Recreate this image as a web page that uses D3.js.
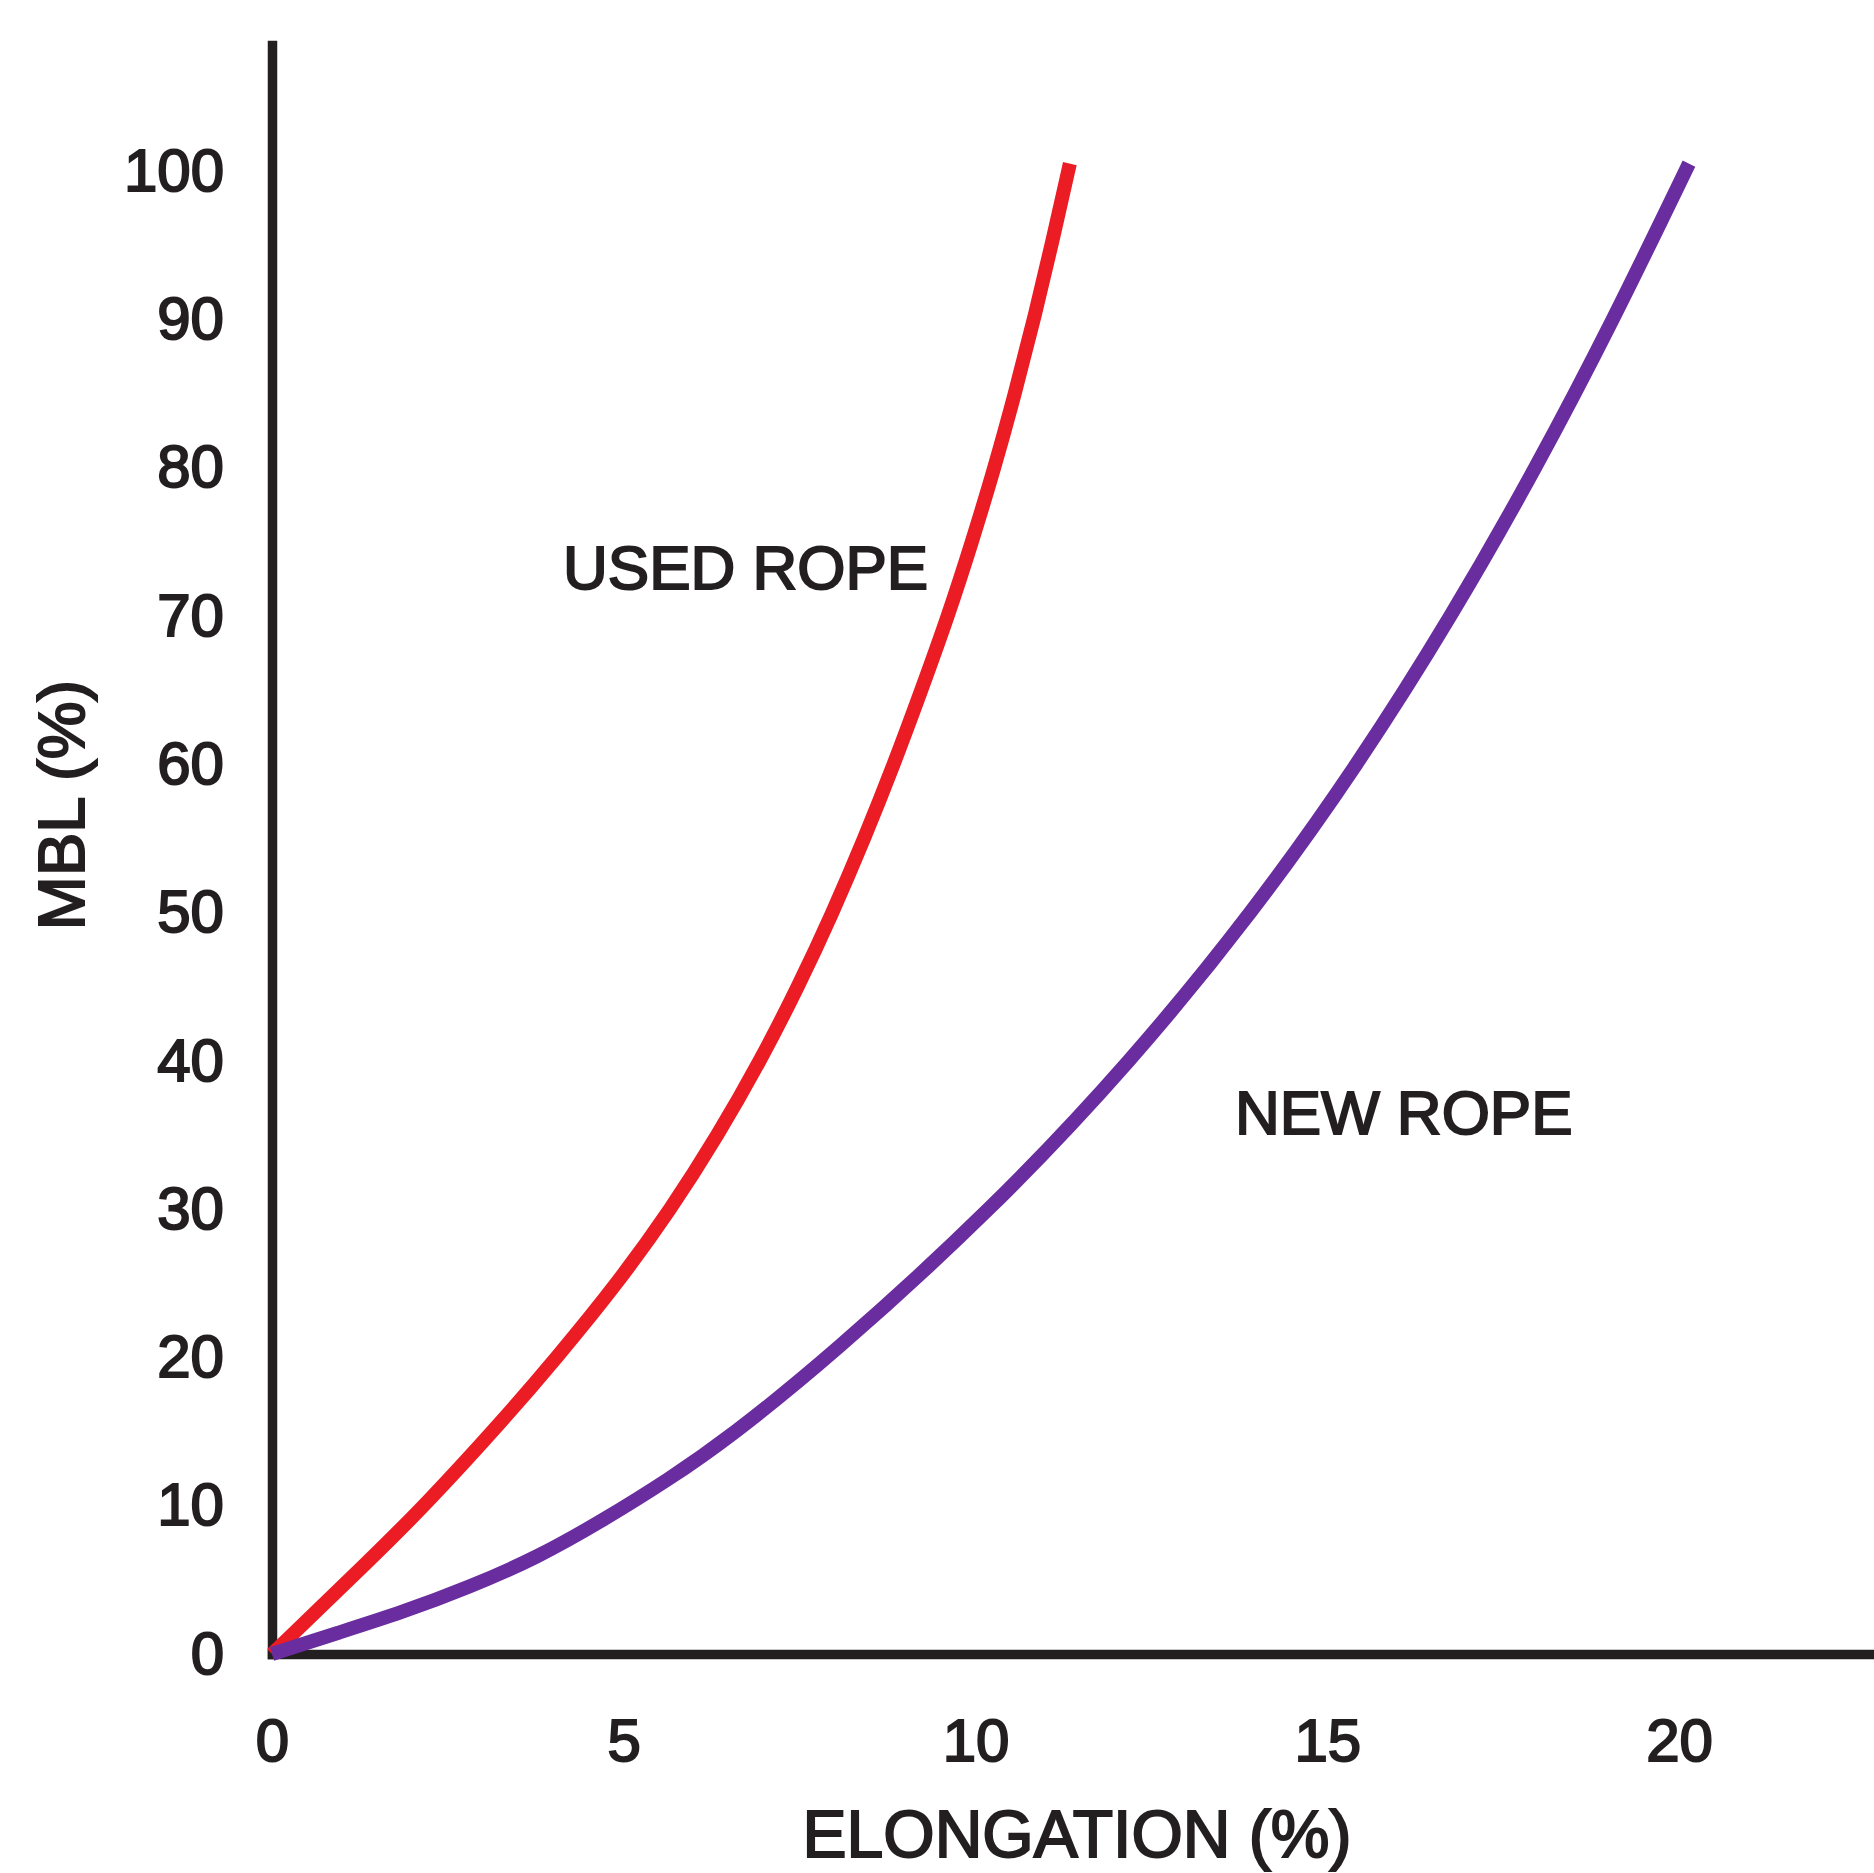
<!DOCTYPE html>
<html>
<head>
<meta charset="utf-8">
<script src="https://cdn.jsdelivr.net/npm/d3@7"></script>
<style>
  html, body { margin: 0; padding: 0; background: #fff; }
  svg { display: block; }
  text { font-family: "Liberation Sans", Arial, Helvetica, sans-serif; fill: #231f20; stroke: #231f20; stroke-width: 2px; }
</style>
</head>
<body>
<svg id="chart"></svg>
<script>
// values (elongation %, MBL %)
const usedElongation = [0, 1.38, 2.17, 3.29, 4.05, 4.91, 5.67, 6.34, 6.94, 7.48, 7.97, 8.42, 8.84, 9.23, 9.61, 9.95, 10.27, 10.56, 10.83, 11.08, 11.34]
const usedMbl = [0, 6.3, 10, 15.8, 20, 25, 30, 35, 40, 45, 50, 55, 60, 65, 70, 75, 80, 85, 90, 95, 100.5]

const newElongation = [0, 0.92, 1.85, 2.8, 3.77, 4.7, 5.65, 6.5, 7.92, 10.24, 12.22, 13.94, 15.44, 16.77, 17.97, 19.07, 20.14]
const newMbl = [0, 1.4, 2.8, 4.5, 6.5, 9.0, 11.8, 14.6, 20, 30, 40, 50, 60, 70, 80, 90, 100.5]

const xTicks = [0, 5, 10, 15, 20]
const yTicks = [0, 10, 20, 30, 40, 50, 60, 70, 80, 90, 100]

const seriesNames = ['USED ROPE', 'NEW ROPE']
const seriesColors = ['#ec1c24', '#6a2d9f']

let width = 1874
let height = 1873
let ink = '#231f20'

let svg = d3.select('#chart')
  .attr('width', width)
  .attr('height', height)

let x = d3.scaleLinear()
  .domain([0, 22.77])
  .range([272, width])
let y = d3.scaleLinear()
  .domain([0, 108.5])
  .range([1654, 45])

// axes
let xAxis = svg.append('g')
  .attr('transform', `translate(0, ${y(0)})`)
  .call(d3.axisBottom(x).tickValues(xTicks).tickSize(0).tickSizeOuter(0).tickPadding(64))
let yAxis = svg.append('g')
  .attr('transform', `translate(${x(0)}, 0)`)
  .call(d3.axisLeft(y).tickValues(yTicks).tickSize(0).tickSizeOuter(0).tickPadding(48))

for (let ax of [xAxis, yAxis]) {
  ax.attr('font-family', null).attr('font-size', null)
  ax.select('.domain')
    .attr('stroke', ink)
    .attr('stroke-width', 9.5)
    .attr('stroke-linecap', 'square')
  ax.selectAll('.tick text')
    .attr('fill', null)
    .style('font-size', '60px')
}

// curves (B-spline through the read points to keep them smooth)
let line = d3.line()
  .x(d => x(d[0]))
  .y(d => y(d[1]))
  .curve(d3.curveBasis)

let series = [
  d3.zip(usedElongation, usedMbl),
  d3.zip(newElongation, newMbl),
]

svg.append('g')
  .selectAll('path.rope')
  .data(series)
  .join('path')
  .attr('class', 'rope')
  .attr('d', line)
  .attr('fill', 'none')
  .attr('stroke', (d, i) => seriesColors[i])
  .attr('stroke-width', 14)
  .attr('stroke-linecap', 'butt')

// series labels
let labelPos = [[563, 589], [1235, 1134]]
svg.selectAll('text.series-label')
  .data(seriesNames)
  .join('text')
  .attr('class', 'series-label')
  .attr('x', (d, i) => labelPos[i][0])
  .attr('y', (d, i) => labelPos[i][1])
  .style('font-size', '62px')
  .text(d => d)

// axis titles
svg.append('text')
  .attr('transform', 'translate(84, 805) rotate(-90)')
  .attr('text-anchor', 'middle')
  .style('font-size', '65px')
  .text('MBL (%)')

svg.append('text')
  .attr('x', 1077)
  .attr('y', 1857)
  .attr('text-anchor', 'middle')
  .style('font-size', '66px')
  .text('ELONGATION (%)')
</script>
</body>
</html>
